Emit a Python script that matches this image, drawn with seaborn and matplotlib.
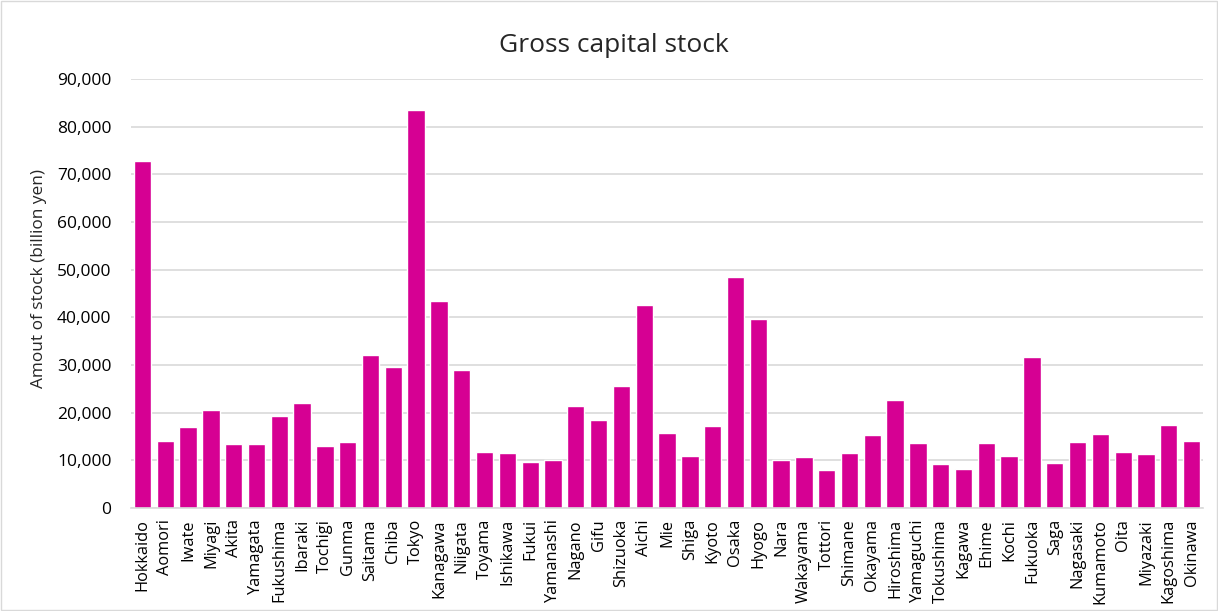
import seaborn as sns
import pandas as pd
import matplotlib.pyplot as plt
from matplotlib.ticker import FuncFormatter
from matplotlib.patches import Rectangle

# 都道府県別 粗資本ストック (billion yen)
prefectures = ['Hokkaido', 'Aomori', 'Iwate', 'Miyagi', 'Akita', 'Yamagata', 'Fukushima',
               'Ibaraki', 'Tochigi', 'Gunma', 'Saitama', 'Chiba', 'Tokyo', 'Kanagawa',
               'Niigata', 'Toyama', 'Ishikawa', 'Fukui', 'Yamanashi', 'Nagano', 'Gifu',
               'Shizuoka', 'Aichi', 'Mie', 'Shiga', 'Kyoto', 'Osaka', 'Hyogo', 'Nara',
               'Wakayama', 'Tottori', 'Shimane', 'Okayama', 'Hiroshima', 'Yamaguchi',
               'Tokushima', 'Kagawa', 'Ehime', 'Kochi', 'Fukuoka', 'Saga', 'Nagasaki',
               'Kumamoto', 'Oita', 'Miyazaki', 'Kagoshima', 'Okinawa']
stock = [72900, 14060, 16990, 20490, 13430, 13500, 19300,
         22100, 13080, 13920, 32030, 29580, 83570, 43430,
         28880, 11820, 11610, 9650, 10000, 21330, 18530,
         25520, 42590, 15800, 10910, 17270, 48390, 39580, 10070,
         10630, 7900, 11470, 15310, 22590, 13570,
         9160, 8180, 13640, 10910, 31680, 9370, 13780,
         15590, 11680, 11400, 17410, 14060]

df = pd.DataFrame({'prefecture': prefectures, 'stock': stock})

sns.set_style('white')
plt.rcParams['font.family'] = ['Open Sans', 'DejaVu Sans']

fig = plt.figure(figsize=(12.18, 6.11), dpi=100)
ax = fig.add_axes([0.1076, 0.1686, 0.8801, 0.7021])

sns.barplot(data=df, x='prefecture', y='stock', color='#D60093', width=0.76,
            saturation=1, ax=ax)

ax.set_ylim(0, 90000)
ax.set_yticks(range(0, 90001, 10000))
ax.yaxis.set_major_formatter(FuncFormatter(lambda v, p: f'{int(v):,}'))
ax.set_xlim(-0.5, len(prefectures) - 0.5)
ax.grid(axis='y', color='#d9d9d9', linewidth=1.2)
ax.set_axisbelow(True)
for s in ['top', 'right', 'left']:
    ax.spines[s].set_visible(False)
ax.spines['bottom'].set_color('#d9d9d9')
ax.spines['bottom'].set_linewidth(1.2)

ax.tick_params(axis='x', labelrotation=90, labelsize=11.8, length=0, pad=8, colors='black')
ax.tick_params(axis='y', labelsize=12.5, length=0, pad=14, colors='black')
ax.set_xlabel('')
ax.set_ylabel('Amout of stock (billion yen)', fontsize=12.4, va='center')
ax.yaxis.set_label_coords(-0.0858, 0.534)

# 제목은 차트 전체 기준 가운데
fig.text(0.504, 0.915, 'Gross capital stock', fontsize=19, ha='center', va='baseline')

# 차트 테두리
fig.patches.append(Rectangle((0.001, 0.002), 0.998, 0.996, transform=fig.transFigure,
                             fill=False, edgecolor='#d9d9d9', linewidth=1))

fig.savefig('out.png', dpi=100)
